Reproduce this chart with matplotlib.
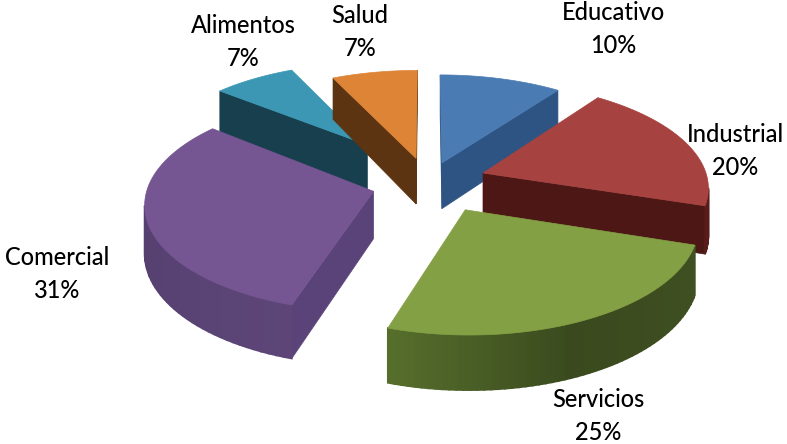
# -*- coding: utf-8 -*-
import matplotlib
matplotlib.use('Agg')
import matplotlib.pyplot as plt
import numpy as np

#---  data  ---
categories = ['Educativo', 'Industrial', 'Servicios', 'Comercial', 'Alimentos', 'Salud']
values = [10, 20, 25, 31, 7, 7]

#---  colours: top face, cut wall, outer wall along the arc (start, middle, end)  ---
top_colors = ['#4a7bb3', '#a6423f', '#84a044', '#755592', '#3b97b3', '#dd8436']
cut_colors = ['#2e5484', '#4d1716', '#4f6228', '#5a4378', '#183f4e', '#5c3412']
wall_start = ['#345a88', '#5d201e', '#3f5022', '#5d4578', '#1b4d5f', '#6b3b16']
wall_mid = ['#305280', '#5c1e1d', '#3a4a1e', '#554070', '#1b4d5f', '#6b3b16']
wall_end = ['#2d4e78', '#5a1c1b', '#566e2c', '#5e4880', '#1b4d5f', '#6b3b16']

label_pos = [(613, 29), (735, 151), (598, 416), (57, 274), (243, 42), (360, 32)]

#---  pie geometry, in pixels  ---
cx, cy = 430, 187
rx, ry = 225, 104
depth = 47
explode = 0.25
persp = 0.12
draw_order = [4, 5, 0, 1, 3, 2]

#---  small per-slice corrections about the apex: shift, radius, stretch, x shear  ---
slice_dx = [-5, 0, 9, -2, -29, -2]
slice_dy = [0, -6, -1, -3, -22, -4]
slice_radius = [1, 1, 1, 1, 0.8, 1]
slice_xstretch = [1, 1, 1, 1, 1.19, 1]
slice_ystretch = [1, 1, 1, 1, 1.13, 1]
slice_shear = [0, 0, 0, 0.04, -0.05, 0]


def project(u, v, down=0.0):
    s = 1.0 / (1.0 + persp * v)
    return cx + rx * u * s, cy - ry * v * s + down * depth * s


def area(pts):
    x, y = np.array(pts).T
    return 0.5 * np.sum(x * np.roll(y, -1) - np.roll(x, -1) * y)


fig = plt.figure(figsize=(7.87, 4.44), dpi=100)
ax = fig.add_axes([0, 0, 1, 1])
ax.set_xlim(0, 787)
ax.set_ylim(444, 0)
ax.axis('off')

edges = np.cumsum([0] + values) / np.sum(values) * 2 * np.pi

for i in draw_order:
    a0, a1 = edges[i], edges[i + 1]
    mid = (a0 + a1) / 2
    ou, ov = explode * np.sin(mid), explode * np.cos(mid)
    ang = np.linspace(a0, a1, 60)
    us = ou + slice_radius[i] * np.sin(ang)
    vs = ov + slice_radius[i] * np.cos(ang)
    ax0, ay0 = project(ou, ov)


    def place(u, v, down=0.0):
        x, y = project(u, v, down)
        lift = project(u, v)[1] - ay0
        return (ax0 + (x - ax0) * slice_xstretch[i] + slice_shear[i] * lift + slice_dx[i],
                ay0 + lift * slice_ystretch[i] + (y - project(u, v)[1]) + slice_dy[i])


    apex_t = place(ou, ov)
    apex_b = place(ou, ov, 1)
    top = [place(u, v) for u, v in zip(us, vs)]
    bot = [place(u, v, 1) for u, v in zip(us, vs)]

    #---  cut walls, only when facing the viewer  ---
    for quad in ([apex_t, top[0], bot[0], apex_b], [top[-1], apex_t, apex_b, bot[-1]]):
        if area(quad) < 0:
            ax.fill(*zip(*quad), color=cut_colors[i], lw=0.5, zorder=1)

    #---  outer wall, shaded along the arc  ---
    stops = np.array([matplotlib.colors.to_rgb(c) for c in (wall_start[i], wall_mid[i], wall_end[i])])
    for j in range(len(ang) - 1):
        quad = [top[j], top[j + 1], bot[j + 1], bot[j]]
        if area(quad) < 0:
            t = j / (len(ang) - 2)
            col = [np.interp(t, [0, 0.55, 1], stops[:, k]) for k in range(3)]
            ax.fill(*zip(*quad), color=col, lw=1.2, zorder=1)

    ax.fill(*zip(*([apex_t] + top)), color=top_colors[i], lw=0.5, zorder=1)

#---  labels  ---
for name, val, pos in zip(categories, values, label_pos):
    ax.text(pos[0], pos[1], f'{name}\n{val}%', ha='center', va='center',
            fontsize=17, family='Lato', fontweight='medium', color='black', linespacing=1.5, zorder=3)

plt.savefig('out.png', dpi=100)
